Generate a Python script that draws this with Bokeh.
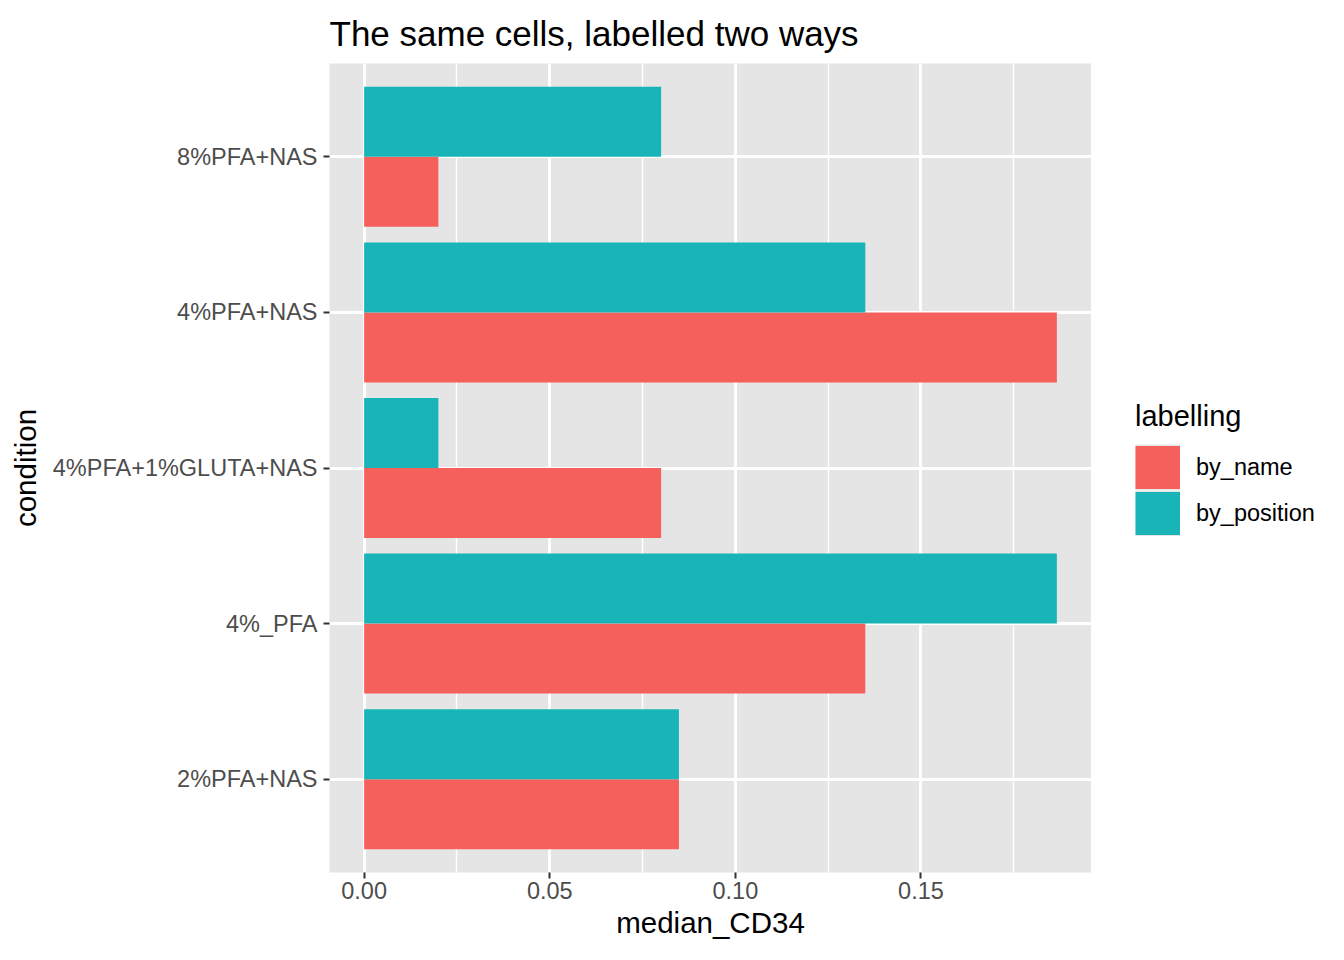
from bokeh.plotting import figure
from bokeh.layouts import row
from bokeh.models import (ColumnDataSource, FactorRange, Range1d, FixedTicker,
                          Legend, LegendItem)
from bokeh.transform import dodge
from bokeh.embed import file_html
from bokeh.resources import INLINE

# ---- data ----
conditions = ["2%PFA+NAS", "4%_PFA", "4%PFA+1%GLUTA+NAS", "4%PFA+NAS", "8%PFA+NAS"]
by_name = [0.0848, 0.135, 0.080, 0.1866, 0.020]
by_position = [0.0848, 0.1866, 0.020, 0.135, 0.080]
series_names = ["by_name", "by_position"]
x_ticks = [0.0, 0.05, 0.10, 0.15]
x_tick_labels = ["0.00", "0.05", "0.10", "0.15"]
x_minor_ticks = [0.025, 0.075, 0.125, 0.175]

RED = "#F5605C"
TEAL = "#19B4B8"
PANEL = "#E5E5E5"
FONT = "Liberation Sans"

src = ColumnDataSource(dict(condition=conditions, by_name=by_name, by_position=by_position))

vmax = max(max(by_name), max(by_position))
xr = Range1d(-0.05 * vmax, 1.05 * vmax)
yr = FactorRange(factors=conditions, range_padding=0.1, range_padding_units="absolute")

H = 944
p = figure(width=1091, height=H, x_range=xr, y_range=yr,
           output_backend="svg", toolbar_location=None,
           min_border_left=329, min_border_right=0,
           min_border_top=62, min_border_bottom=72,
           title="The same cells, labelled two ways")

p.background_fill_color = PANEL
p.border_fill_color = "white"
p.outline_line_color = None

p.title.text_font = FONT
p.title.text_font_size = "35px"
p.title.text_font_style = "normal"
p.title.text_color = "black"
p.title.align = "left"
p.title.standoff = 22

# bars
p.hbar(y=dodge("condition", -0.225, range=p.y_range), left=0, right="by_name",
       height=0.45, source=src, fill_color=RED, line_color=None)
p.hbar(y=dodge("condition", 0.225, range=p.y_range), left=0, right="by_position",
       height=0.45, source=src, fill_color=TEAL, line_color=None)

# axes
p.xaxis.ticker = FixedTicker(ticks=x_ticks, minor_ticks=x_minor_ticks)
p.xaxis.major_label_overrides = {t: l for t, l in zip(x_ticks, x_tick_labels)}
for ax in (p.xaxis[0], p.yaxis[0]):
    ax.axis_line_color = None
    ax.major_tick_line_color = "#333333"
    ax.major_tick_line_width = 2
    ax.major_tick_out = 6
    ax.major_tick_in = 0
    ax.minor_tick_line_color = None
    ax.major_label_text_font = FONT
    ax.major_label_text_font_size = "23.5px"
    ax.major_label_text_color = "#4D4D4D"
    ax.axis_label_text_font = FONT
    ax.axis_label_text_font_size = "29.5px"
    ax.axis_label_text_font_style = "normal"
    ax.axis_label_text_color = "black"
p.xaxis.axis_label = "median_CD34"
p.yaxis.axis_label = "condition"
p.xaxis.major_label_standoff = 3
p.yaxis.major_label_standoff = 6
p.xaxis.axis_label_standoff = 4
p.yaxis.axis_label_standoff = 8

# grid
p.xgrid.grid_line_color = "white"
p.xgrid.grid_line_width = 2.8
p.xgrid.minor_grid_line_color = "white"
p.xgrid.minor_grid_line_width = 1.4
p.ygrid.grid_line_color = "white"
p.ygrid.grid_line_width = 2.8
p.ygrid.minor_grid_line_color = None

# ---- legend panel (separate figure; its lines lie far outside its view) ----
q = figure(width=1328 - 1091, height=H, x_range=Range1d(10.0, 11.0),
           y_range=FactorRange(factors=conditions),
           output_backend="svg", toolbar_location=None,
           min_border=0)
q.axis.visible = False
q.grid.visible = False
q.outline_line_color = None
q.background_fill_color = "white"
q.border_fill_color = "white"
bg1 = q.line(x="by_name", y="condition", source=src, line_color=PANEL, line_width=46)
k1 = q.line(x="by_name", y="condition", source=src, line_color=RED, line_width=43)
bg2 = q.line(x="by_position", y="condition", source=src, line_color=PANEL, line_width=46)
k2 = q.line(x="by_position", y="condition", source=src, line_color=TEAL, line_width=43)
legend = Legend(items=[LegendItem(label=series_names[0], renderers=[bg1, k1]),
                       LegendItem(label=series_names[1], renderers=[bg2, k2])],
                location=(44, 336), title="labelling",
                orientation="vertical")
legend.title_text_font = FONT
legend.title_text_font_size = "29px"
legend.title_text_font_style = "normal"
legend.title_text_color = "black"
legend.title_standoff = 11
legend.label_text_font = FONT
legend.label_text_font_size = "23.5px"
legend.label_text_color = "black"
legend.label_standoff = 16
legend.glyph_width = 45
legend.glyph_height = 46
legend.label_height = 46
legend.spacing = 0
legend.padding = 0
legend.margin = 0
legend.border_line_color = None
legend.background_fill_alpha = 0
q.add_layout(legend, "center")

layout = row(p, q, spacing=0)
open("out.html", "w").write(file_html(layout, INLINE))
